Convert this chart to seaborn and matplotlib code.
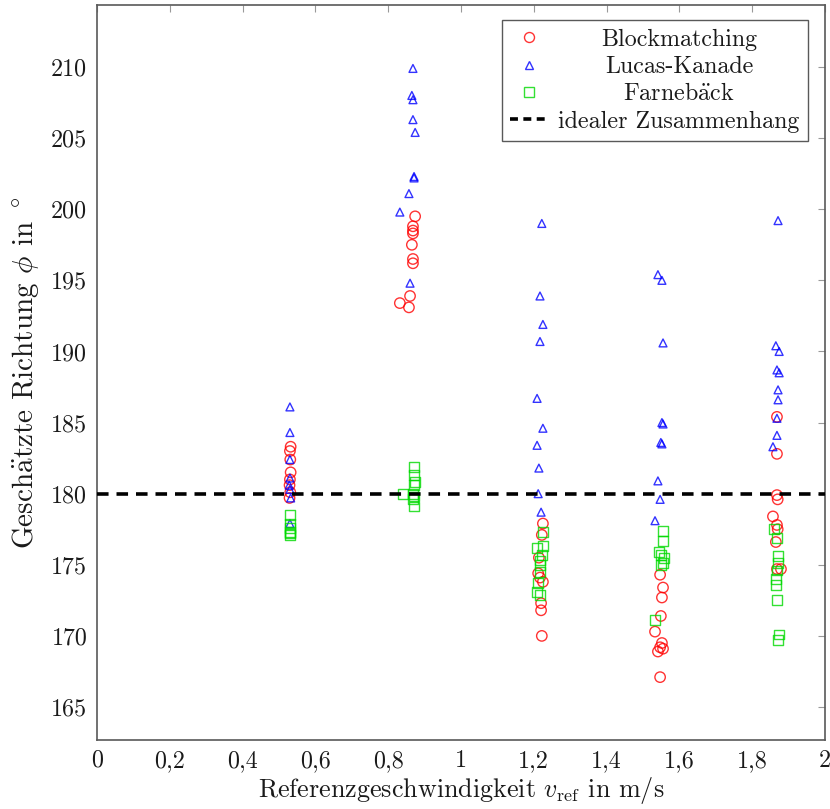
import matplotlib
matplotlib.use("Agg")
import matplotlib.pyplot as plt
import matplotlib.transforms as mtransforms
from matplotlib.lines import Line2D
import seaborn as sns
import pandas as pd

# ---------------- data ----------------
bm_x = [0.532, 0.530, 0.531, 0.532, 0.530, 0.529, 0.531, 0.529,
        0.874, 0.868, 0.868, 0.868, 0.865, 0.868, 0.868, 0.860, 0.832, 0.857,
        1.225, 1.222, 1.214, 1.212, 1.217, 1.225, 1.220, 1.220, 1.222,
        1.547, 1.555, 1.552, 1.549, 1.533, 1.552, 1.547, 1.541, 1.555, 1.547,
        1.868, 1.868, 1.868, 1.870, 1.857, 1.868, 1.870, 1.865, 1.868, 1.879]
bm_y = [183.3, 183.0, 182.4, 181.5, 181.0, 180.6, 180.1, 179.7,
        199.5, 198.8, 198.5, 198.3, 197.5, 196.5, 196.2, 193.9, 193.4, 193.1,
        177.9, 177.1, 175.5, 174.4, 174.1, 173.8, 172.3, 171.8, 170.0,
        174.3, 173.4, 172.7, 171.4, 170.3, 169.5, 169.2, 168.9, 169.1, 167.1,
        185.4, 182.8, 179.9, 179.6, 178.4, 177.8, 177.5, 176.6, 174.7, 174.7]

lk_x = [0.530, 0.530, 0.530, 0.530, 0.528, 0.530, 0.532, 0.530,
        0.868, 0.865, 0.868, 0.868, 0.874, 0.871, 0.871, 0.857, 0.832, 0.860,
        1.222, 1.217, 1.225, 1.217, 1.209, 1.225, 1.209, 1.214, 1.212, 1.220,
        1.541, 1.552, 1.555, 1.552, 1.555, 1.549, 1.552, 1.541, 1.547, 1.533,
        1.871, 1.865, 1.874, 1.868, 1.874, 1.871, 1.871, 1.868, 1.868, 1.857]
lk_y = [186.1, 184.3, 182.4, 181.1, 180.6, 180.3, 179.7, 177.9,
        209.9, 208.0, 207.7, 206.3, 205.4, 202.3, 202.2, 201.1, 199.8, 194.8,
        199.0, 193.9, 191.9, 190.7, 186.7, 184.6, 183.4, 181.8, 180.0, 178.7,
        195.4, 195.0, 190.6, 185.0, 184.9, 183.6, 183.5, 180.9, 179.6, 178.1,
        199.2, 190.4, 190.0, 188.7, 188.5, 187.3, 186.6, 185.3, 184.1, 183.3]

fb_x = [0.530, 0.530, 0.530, 0.530, 0.530, 0.531,
        0.871, 0.871, 0.874, 0.871, 0.840, 0.868, 0.871, 0.868, 0.871,
        1.225, 1.209, 1.225, 1.222, 1.217, 1.217, 1.217, 1.212, 1.209, 1.217,
        1.555, 1.555, 1.544, 1.549, 1.557, 1.549, 1.555, 1.533,
        1.860, 1.868, 1.871, 1.871, 1.868, 1.865, 1.865, 1.868, 1.874, 1.871]
fb_y = [178.5, 177.9, 177.6, 177.3, 177.1, 177.2,
        181.9, 181.3, 180.8, 180.6, 180.0, 180.0, 179.8, 179.6, 179.1,
        177.3, 176.2, 176.3, 175.7, 175.3, 175.0, 174.5, 173.7, 173.1, 172.9,
        177.4, 176.7, 175.9, 175.7, 175.5, 175.0, 175.1, 171.1,
        177.5, 176.9, 175.6, 175.1, 174.6, 174.0, 173.6, 172.5, 170.1, 169.7]

ideal_y = 180
series_names = ["Blockmatching", "Lucas-Kanade", "Farnebäck"]
ideal_name = "idealer Zusammenhang"
x_ticks = [0, 0.2, 0.4, 0.6, 0.8, 1, 1.2, 1.4, 1.6, 1.8, 2]
x_ticklabels = ["0", "0,2", "0,4", "0,6", "0,8", "1", "1,2", "1,4", "1,6", "1,8", "2"]
y_ticks = [165, 170, 175, 180, 185, 190, 195, 200, 205, 210]

# displayed legend strings (umlaut via mathtext accent, cmr10 lacks it)
display_names = {"Blockmatching": "Blockmatching",
                 "Lucas-Kanade": "Lucas-Kanade",
                 "Farnebäck": r"Farneb$\ddot{\mathrm{a}}$ck"}

# ---------------- style ----------------
sns.set_theme(style="white")
plt.rcParams["font.family"] = ["cmr10", "DejaVu Serif"]
plt.rcParams["mathtext.fontset"] = "cm"
plt.rcParams["axes.unicode_minus"] = False
plt.rcParams["axes.formatter.use_mathtext"] = True
FS_TICK = 17.3
FS_XLAB = 18.8
FS_YLAB = 21.0
FS_LEG = 17.3

fig = plt.figure(figsize=(8.30, 8.09), dpi=100)
ax = fig.add_axes([97 / 830, 1 - 740 / 809, 728 / 830, 735 / 809])

colors = {"Blockmatching": (1.0, 0.0, 0.0),
          "Lucas-Kanade": (0.0, 0.0, 1.0),
          "Farnebäck": (0.0, 0.85, 0.0)}
markers = {"Blockmatching": "o", "Lucas-Kanade": "^", "Farnebäck": "s"}
sizes = {"Blockmatching": 56, "Lucas-Kanade": 32, "Farnebäck": 50}

df = pd.concat([
    pd.DataFrame({"x": bm_x, "y": bm_y, "Methode": series_names[0]}),
    pd.DataFrame({"x": lk_x, "y": lk_y, "Methode": series_names[1]}),
    pd.DataFrame({"x": fb_x, "y": fb_y, "Methode": series_names[2]}),
], ignore_index=True)

for name in series_names:
    sub = df[df["Methode"] == name]
    sns.scatterplot(data=sub, x="x", y="y", ax=ax, marker=markers[name],
                    s=sizes[name], facecolor="none", edgecolor=colors[name],
                    linewidth=1.0, alpha=0.8, legend=False, zorder=3)

ax.axhline(ideal_y, color="black", lw=2.6, ls=(0, (3.2, 2.2)), zorder=4)

ax.set_xlim(0, 2)
ax.set_ylim(162.68, 214.36)
ax.set_xticks(x_ticks)
ax.set_xticklabels(x_ticklabels)
ax.set_yticks(y_ticks)
ax.set_yticklabels([str(v) for v in y_ticks])
ax.tick_params(axis="both", which="major", direction="in", length=5,
               width=0.8, color="0.6", labelsize=FS_TICK, top=True, right=True,
               pad=7, labelcolor="0.1")
for sp in ax.spines.values():
    sp.set_color("0.35")
    sp.set_linewidth(1.2)

ax.set_xlabel(r"Referenzgeschwindigkeit $v_{\mathrm{ref}}$ in m/s", fontsize=FS_XLAB,
              color="0.1", labelpad=2)
ax.set_ylabel(r"Gesch$\ddot{\mathrm{a}}$tzte Richtung $\phi$ in $^\circ$", fontsize=FS_YLAB,
              color="0.1", labelpad=7)

handles = [Line2D([], [], ls="none", marker=markers[n],
                  markersize=7.2 if n != "Lucas-Kanade" else 5.5,
                  markerfacecolor="none", markeredgecolor=colors[n],
                  markeredgewidth=1.0, alpha=0.8)
           for n in series_names]
handles.append(Line2D([], [], color="black", lw=2.6, ls=(0, (2.2, 1.5))))
labels = [display_names[n] for n in series_names] + [ideal_name]
leg = ax.legend(handles, labels, loc="upper right", bbox_to_anchor=(0.977, 0.9796),
                borderaxespad=0, fancybox=False, framealpha=1, fontsize=FS_LEG,
                handlelength=1.55, handletextpad=0.45, labelspacing=0.22,
                borderpad=0.35, edgecolor="0.35")
leg.get_frame().set_linewidth(1.0)
leg.set_zorder(5)

# center the legend texts (as in pgfplots)
fig.canvas.draw()
renderer = fig.canvas.get_renderer()
texts = leg.get_texts()
exts = [t.get_window_extent(renderer) for t in texts]
x_left = min(e.x0 for e in exts)
max_w = max(e.width for e in exts)
for t, e in zip(texts, exts):
    bx, by = t.get_transform().transform(t.get_position())
    t.set_alpha(0)
    fig.text(x_left + max_w / 2, by, t.get_text(), ha="center", va="baseline",
             fontsize=FS_LEG, color="0.1", transform=mtransforms.IdentityTransform(),
             zorder=10)

fig.savefig("out.png", dpi=100)
